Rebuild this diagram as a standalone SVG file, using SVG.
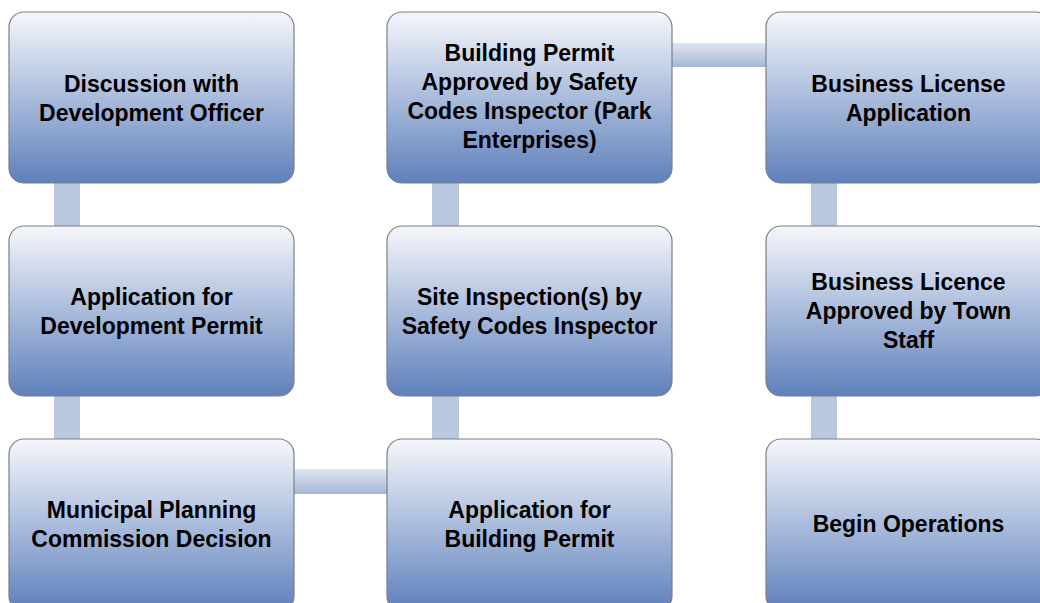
<svg xmlns="http://www.w3.org/2000/svg" width="1040" height="603" viewBox="0 0 1040 603">
<defs>
<linearGradient id="boxg" x1="0" y1="0" x2="0" y2="1">
<stop offset="0" stop-color="#f6f7fb"/>
<stop offset="0.5" stop-color="#aabcdc"/>
<stop offset="1" stop-color="#5f80bb"/>
</linearGradient>
<linearGradient id="hconn" x1="0" y1="0" x2="0" y2="1">
<stop offset="0" stop-color="#dfe6f1"/>
<stop offset="1" stop-color="#a5b7d6"/>
</linearGradient>
<style>
.box{fill:url(#boxg);stroke:#7a7f88;stroke-width:1.2}
.vc{fill:#bac8df}
.hc{fill:url(#hconn)}
.t{font-family:"Liberation Sans",Arial,sans-serif;font-weight:bold;font-size:23px;fill:#000;text-anchor:middle}
</style>
</defs>
<rect width="1040" height="603" fill="#ffffff"/>
<g id="connectors">
<rect class="vc" x="54" y="182" width="26" height="45"/>
<rect class="vc" x="54" y="395" width="26" height="45"/>
<rect class="vc" x="432" y="182" width="27" height="45"/>
<rect class="vc" x="432" y="395" width="27" height="45"/>
<rect class="vc" x="811" y="182" width="26" height="45"/>
<rect class="vc" x="811" y="395" width="26" height="45"/>
<rect class="hc" x="293" y="469" width="95" height="25"/>
<rect class="hc" x="671" y="43" width="96" height="24"/>
</g>
<g id="n1">
<rect class="box" x="9" y="12" width="285" height="171" rx="15"/>
<text class="t" x="151.5" y="92">Discussion with</text>
<text class="t" x="151.5" y="120.5">Development Officer</text>
</g>
<g id="n2">
<rect class="box" x="9" y="226" width="285" height="170" rx="15"/>
<text class="t" x="151.5" y="305">Application for</text>
<text class="t" x="151.5" y="333.5">Development Permit</text>
</g>
<g id="n3">
<rect class="box" x="9" y="439" width="285" height="172" rx="15"/>
<text class="t" x="151.5" y="518">Municipal Planning</text>
<text class="t" x="151.5" y="546.5">Commission Decision</text>
</g>
<g id="n4">
<rect class="box" x="387" y="439" width="285" height="172" rx="15"/>
<text class="t" x="529.5" y="518">Application for</text>
<text class="t" x="529.5" y="546.5">Building Permit</text>
</g>
<g id="n5">
<rect class="box" x="387" y="226" width="285" height="170" rx="15"/>
<text class="t" x="529.5" y="305">Site Inspection(s) by</text>
<text class="t" x="529.5" y="333.5">Safety Codes Inspector</text>
</g>
<g id="n6">
<rect class="box" x="387" y="12" width="285" height="171" rx="15"/>
<text class="t" x="529.5" y="60.5">Building Permit</text>
<text class="t" x="529.5" y="89.5">Approved by Safety</text>
<text class="t" x="529.5" y="118.5">Codes Inspector (Park</text>
<text class="t" x="529.5" y="147.5">Enterprises)</text>
</g>
<g id="n7">
<rect class="box" x="766" y="12" width="285" height="171" rx="15"/>
<text class="t" x="908.5" y="92">Business License</text>
<text class="t" x="908.5" y="120.5">Application</text>
</g>
<g id="n8">
<rect class="box" x="766" y="226" width="285" height="170" rx="15"/>
<text class="t" x="908.5" y="290">Business Licence</text>
<text class="t" x="908.5" y="319">Approved by Town</text>
<text class="t" x="908.5" y="347.5">Staff</text>
</g>
<g id="n9">
<rect class="box" x="766" y="439" width="285" height="172" rx="15"/>
<text class="t" x="908.5" y="532">Begin Operations</text>
</g>
</svg>
